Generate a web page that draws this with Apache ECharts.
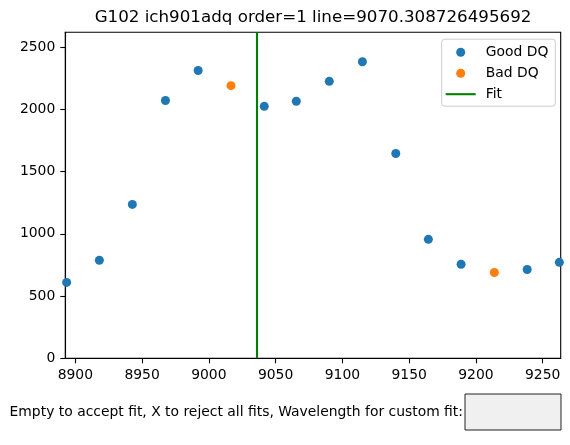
<!DOCTYPE html>
<html>
<head>
<meta charset="utf-8">
<script src="https://cdn.jsdelivr.net/npm/echarts@6/dist/echarts.min.js"></script>
<style>
html,body{margin:0;padding:0;background:#fff;}
#chart{width:570px;height:445px;}
</style>
</head>
<body>
<div id="chart"></div>
<script>
// ---- data ----
var titleText = "G102 ich901adq order=1 line=9070.308726495692";
var promptText = "Empty to accept fit, X to reject all fits, Wavelength for custom fit:";
var goodX = [8893.5, 8918.0, 8942.7, 8967.5, 8992.0, 9041.5, 9065.5, 9090.2, 9115.0, 9140.0, 9164.4, 9188.9, 9238.4, 9262.5];
var goodY = [610, 788, 1237, 2072, 2313, 2025, 2066, 2226, 2383, 1646, 956, 756, 714, 771];
var badX = [9016.6, 9213.8];
var badY = [2191, 690];
var fitLine = [9036.2];
var xTicks = [8900, 8950, 9000, 9050, 9100, 9150, 9200, 9250];
var yTicks = [0, 500, 1000, 1500, 2000, 2500];
var xRange = [8892.5, 9263.5];
var yRange = [0, 2620];
var seriesNames = ["Good DQ", "Bad DQ", "Fit"];

function pairs(xs, ys){ return xs.map(function(x,i){ return [x, ys[i]]; }); }
function plain(v){ return String(Math.round(v)); }

var FONT = "DejaVu Sans";
var chart = echarts.init(document.getElementById('chart'), null, {renderer:'canvas'});
chart.setOption({
  animation: false,
  backgroundColor: '#ffffff',
  textStyle: {fontFamily: FONT},
  title: {
    text: titleText,
    left: 313, textAlign: 'center', top: 9,
    padding: 0,
    textStyle: {fontFamily: FONT, fontSize: 16.7, fontWeight: 'normal', color: '#000'}
  },
  grid: {
    left: 65.3, top: 32.3, right: 9.3, bottom: 86.7,
    show: true, borderColor: '#000', borderWidth: 1.1, backgroundColor: 'transparent',
    containLabel: false
  },
  legend: {
    orient: 'vertical',
    left: 441.7, top: 39.2,
    padding: [6, 7, 5, 4],
    itemGap: 7,
    itemWidth: 30, itemHeight: 9,
    backgroundColor: 'rgba(255,255,255,0.8)',
    borderColor: '#cccccc', borderWidth: 1, borderRadius: 3,
    textStyle: {fontFamily: FONT, fontSize: 13.9, color: '#000', padding: [0,0,0,5]},
    data: [
      {name: seriesNames[0], icon: 'circle'},
      {name: seriesNames[1], icon: 'circle'},
      {name: seriesNames[2], icon: 'path://M0,0 L30,0 L30,2.1 L0,2.1 Z'}
    ]
  },
  xAxis: {
    type: 'value', min: xRange[0], max: xRange[1],
    axisLine: {show: true, lineStyle: {color: '#000', width: 1.1}},
    axisTick: {show: true, length: 5, lineStyle: {color: '#000', width: 1.1}, customValues: xTicks},
    axisLabel: {fontFamily: FONT, fontSize: 13.9, color: '#000', margin: 10, customValues: xTicks, formatter: plain},
    splitLine: {show: false}
  },
  yAxis: {
    type: 'value', min: yRange[0], max: yRange[1],
    axisLine: {show: true, lineStyle: {color: '#000', width: 1.1}},
    axisTick: {show: true, length: 5, lineStyle: {color: '#000', width: 1.1}, customValues: yTicks},
    axisLabel: {fontFamily: FONT, fontSize: 13.9, color: '#000', margin: 10, customValues: yTicks, formatter: plain},
    splitLine: {show: false}
  },
  series: [
    {name: seriesNames[0], type: 'scatter', data: pairs(goodX, goodY), symbol: 'circle', symbolSize: 9,
     itemStyle: {color: '#1f77b4', opacity: 1}, z: 3},
    {name: seriesNames[1], type: 'scatter', data: pairs(badX, badY), symbol: 'circle', symbolSize: 9,
     itemStyle: {color: '#ff7f0e', opacity: 1}, z: 3},
    {name: seriesNames[2], type: 'line', data: [], symbol: 'none', color: '#008000',
     lineStyle: {color: '#008000', width: 2}, itemStyle: {color: '#008000'},
     markLine: {silent: true, symbol: ['none','none'], label: {show: false},
       lineStyle: {color: '#008000', width: 2.1, type: 'solid'},
       emphasis: {disabled: true},
       data: fitLine.map(function(v){ return {xAxis: v}; })}, z: 2}
  ],
  graphic: [
    {type: 'text', x: 463, y: 412,
     style: {text: promptText, fontFamily: FONT, fontSize: 13.9, fill: '#000', align: 'right', verticalAlign: 'middle'}},
    {type: 'rect', x: 465, y: 394, shape: {width: 96, height: 36},
     style: {fill: '#f0f0f0', stroke: '#222', lineWidth: 1}}
  ]
});
</script>
</body>
</html>
